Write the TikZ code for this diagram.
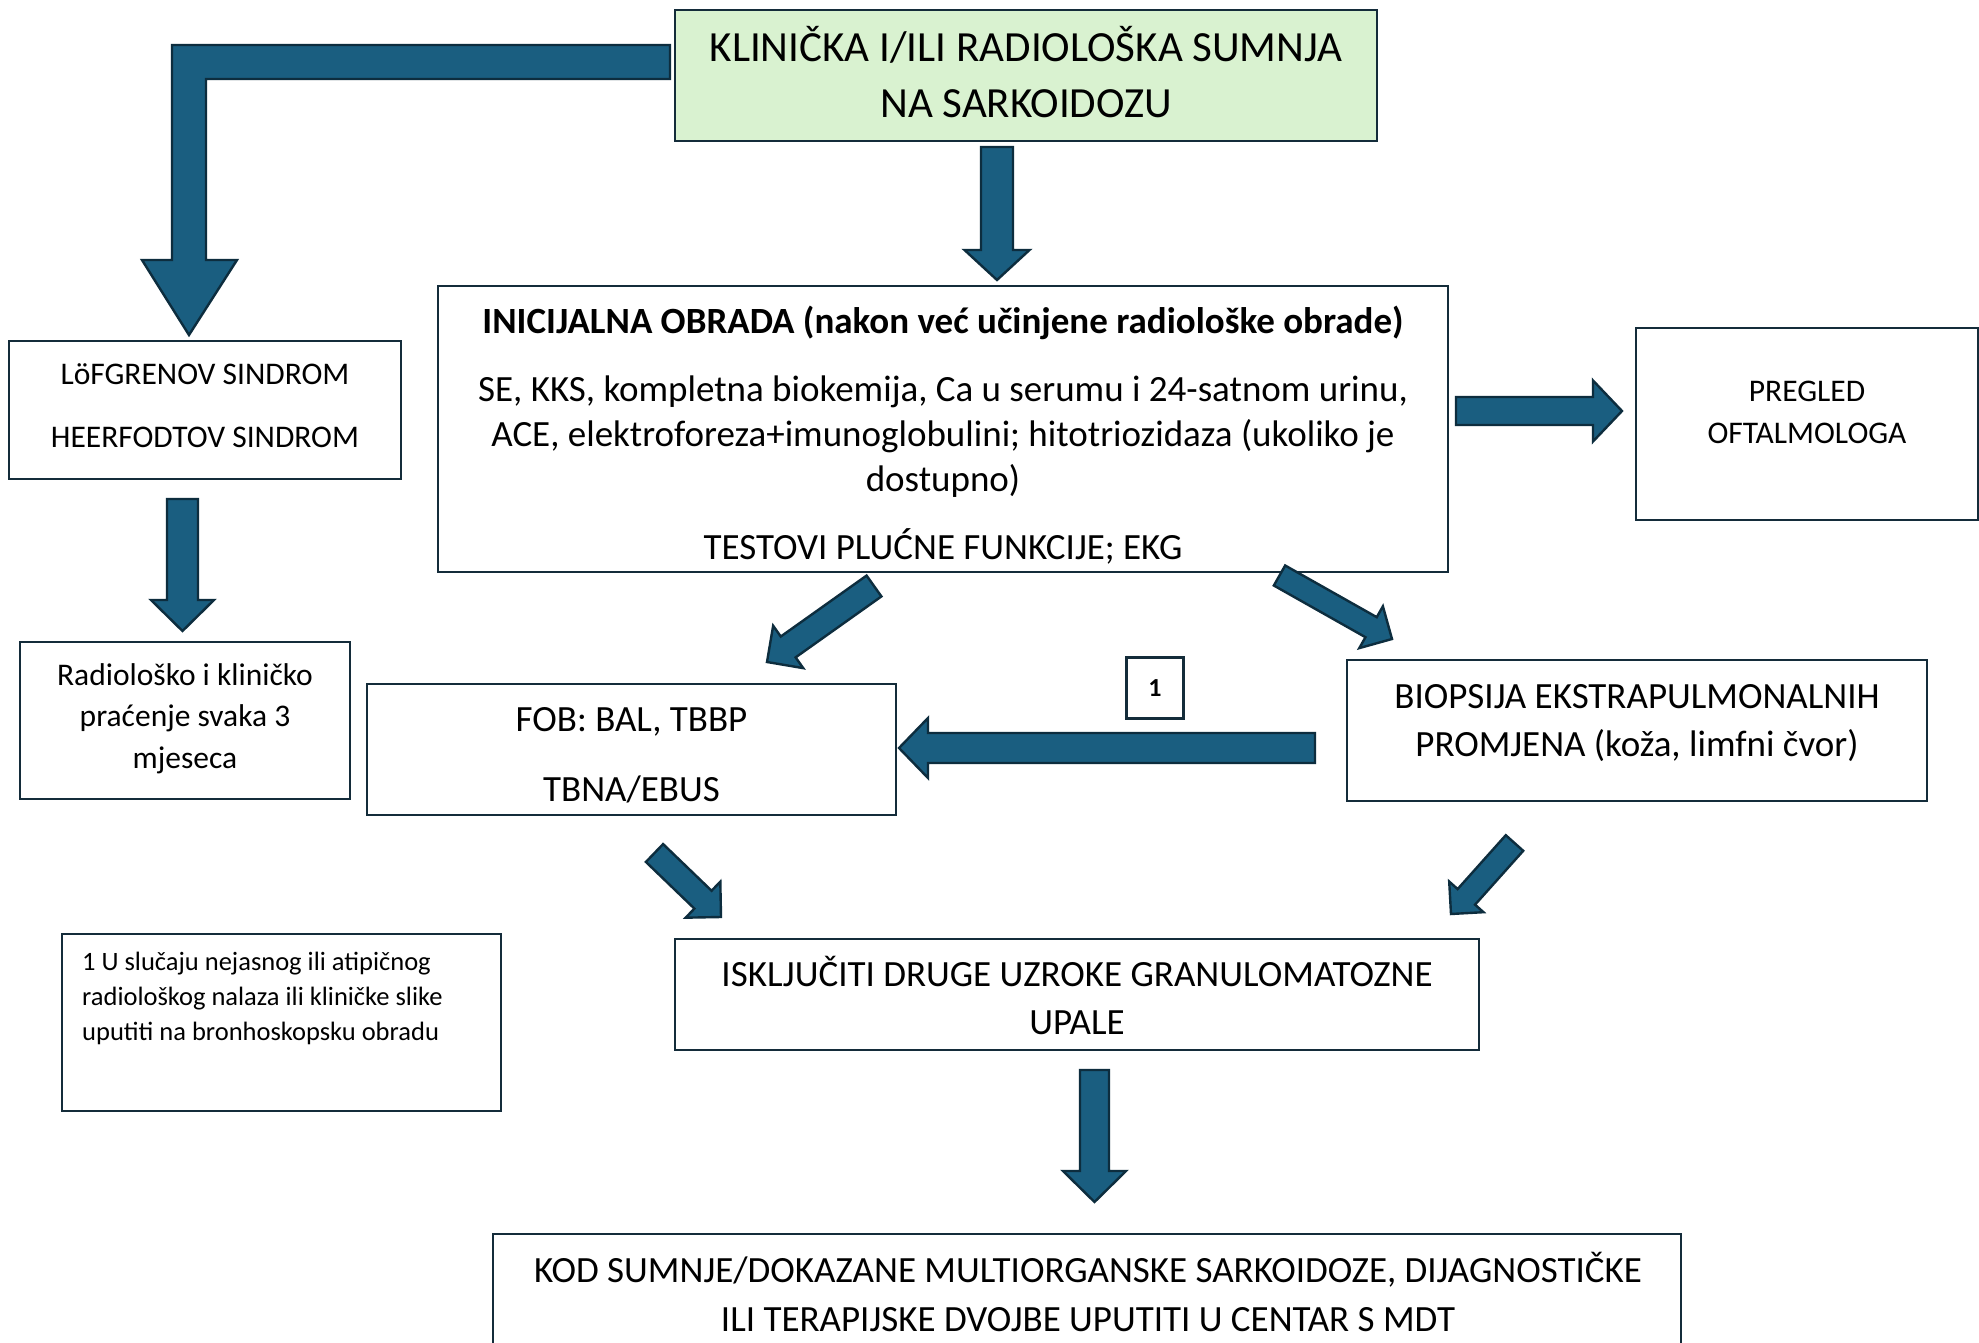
\documentclass[tikz,border=0pt]{standalone}
\usepackage{fontspec}
\setmainfont{Carlito}
\usetikzlibrary{calc}
\definecolor{arrowfill}{RGB}{26,94,128}
\definecolor{arrowline}{RGB}{13,45,62}
\definecolor{boxline}{RGB}{20,44,58}
\definecolor{topfill}{RGB}{217,242,208}
% #1 tail coordinate, #2 tip coordinate, #3 half shaft width, #4 half head width, #5 head length
\newcommand\blockarrow[5]{%
  \coordinate (bahead) at ($(#2)!#5!(#1)$);
  \filldraw[barrow] ($(#1)!#3!90:(#2)$) -- ($(bahead)!#3!-90:(#1)$) -- ($(bahead)!#4!-90:(#1)$)
    -- (#2) -- ($(bahead)!#4!90:(#1)$) -- ($(bahead)!#3!90:(#1)$) -- ($(#1)!#3!-90:(#2)$) -- cycle;
}
\begin{document}
\begin{tikzpicture}[x=1pt,y=-1pt,
  box/.style={draw=boxline,line width=2.2pt,inner sep=0pt,fill=white},
  txt/.style={inner sep=0pt,align=center,text=black},
  barrow/.style={fill=arrowfill,draw=arrowline,line width=2.4pt,line join=miter}]
\useasboundingbox[fill=white] (0,0) rectangle (1979,1343);

% boxes
\node[box,fill=topfill,minimum width=702pt,minimum height=131pt] (top) at (1026,75.5) {};
\node[txt,font=\fontsize{43}{55.5}\selectfont] (topT) at (1026,72) {KLINIČKA I/ILI RADIOLOŠKA SUMNJA\\NA SARKOIDOZU};

\node[box,minimum width=1010pt,minimum height=286pt] (init) at (943,429) {};
\node[txt,font=\fontsize{37}{45}\selectfont] (initT) at (943,435) {\textbf{INICIJALNA OBRADA (nakon već učinjene radiološke obrade)}\\[23pt]
SE, KKS, kompletna biokemija, Ca u serumu i 24-satnom urinu,\\
ACE, elektroforeza+imunoglobulini; hitotriozidaza (ukoliko je\\
dostupno)\\[23pt]
TESTOVI PLUĆNE FUNKCIJE; EKG};

\node[box,minimum width=342pt,minimum height=192pt] (oft) at (1807,424) {};
\node[txt,font=\fontsize{31.5}{42}\selectfont] (oftT) at (1807,412) {PREGLED\\OFTALMOLOGA};

\node[box,minimum width=392pt,minimum height=138pt] (lof) at (205,410) {};
\node[txt,font=\fontsize{31.5}{38}\selectfont] (lofT) at (205,405.5) {LöFGRENOV SINDROM\\[25pt]HEERFODTOV SINDROM};

\node[box,minimum width=330pt,minimum height=157pt] (rad) at (185,720.5) {};
\node[txt,font=\fontsize{31.5}{41.5}\selectfont] (radT) at (185,718.5) {Radiološko i kliničko\\praćenje svaka 3\\mjeseca};

\node[box,minimum width=529pt,minimum height=131pt] (fob) at (631.5,749.5) {};
\node[txt,font=\fontsize{37}{70}\selectfont] (fobT) at (631.5,755) {FOB: BAL, TBBP\\TBNA/EBUS};

\node[box,minimum width=580pt,minimum height=141pt] (bio) at (1637,730.5) {};
\node[txt,font=\fontsize{37}{48}\selectfont] (bioT) at (1637,723.5) {BIOPSIJA EKSTRAPULMONALNIH\\PROMJENA (koža, limfni čvor)};

\node[box,minimum width=57pt,minimum height=61pt,font=\fontsize{26}{30}\selectfont\bfseries] (one) at (1155,688) {1};

\node[box,minimum width=439pt,minimum height=177pt] (note) at (281.5,1022.5) {};
\node[txt,align=left,anchor=north west,font=\fontsize{26.5}{35}\selectfont] (noteT) at (82,952) {1 U slučaju nejasnog ili atipičnog\\radiološkog nalaza ili kliničke slike\\uputiti na bronhoskopsku obradu};

\node[box,minimum width=804pt,minimum height=111pt] (isk) at (1077,994.5) {};
\node[txt,font=\fontsize{37}{48}\selectfont] (iskT) at (1077,995.5) {ISKLJUČITI DRUGE UZROKE GRANULOMATOZNE\\UPALE};

\node[box,minimum width=1188pt,minimum height=150pt] (kod) at (1087,1309) {};
\node[txt,font=\fontsize{37}{49}\selectfont] (kodT) at (1088,1291.5) {KOD SUMNJE/DOKAZANE MULTIORGANSKE SARKOIDOZE, DIJAGNOSTIČKE\\ILI TERAPIJSKE DVOJBE UPUTITI U CENTAR S MDT};

% bent arrow from top box to Lofgren box
\coordinate (bentS) at (670,62);
\coordinate (bentE) at (189,335);
\filldraw[barrow] (670,45) -- (172,45) -- (172,260) -- (142,260) -- (bentE) -- (237,260)
  -- (206,260) -- (206,79) -- (670,79) -- cycle;

% straight block arrows
\coordinate (a1s) at (997,147);   \coordinate (a1e) at (997,280);
\coordinate (a2s) at (1456,411);  \coordinate (a2e) at (1622,411);
\coordinate (a3s) at (182.5,499); \coordinate (a3e) at (182.5,631);
\coordinate (a4s) at (874,586);   \coordinate (a4e) at (767,662);
\coordinate (a5s) at (1279.5,575.5); \coordinate (a5e) at (1392,639);
\coordinate (a6s) at (1315,748);  \coordinate (a6e) at (899,748);
\coordinate (a7s) at (654.5,853); \coordinate (a7e) at (721,917);
\coordinate (a8s) at (1514.5,843); \coordinate (a8e) at (1451,914);
\coordinate (a9s) at (1094.5,1070); \coordinate (a9e) at (1094.5,1202);

\blockarrow{a1s}{a1e}{16pt}{32.5pt}{30pt}
\blockarrow{a2s}{a2e}{14pt}{30.5pt}{29pt}
\blockarrow{a3s}{a3e}{15.5pt}{31.5pt}{31pt}
\blockarrow{a4s}{a4e}{12.8pt}{26pt}{26pt}
\blockarrow{a5s}{a5e}{11.5pt}{24pt}{24pt}
\blockarrow{a6s}{a6e}{15pt}{30pt}{29pt}
\blockarrow{a7s}{a7e}{12.4pt}{25pt}{25pt}
\blockarrow{a8s}{a8e}{11.7pt}{23pt}{23pt}
\blockarrow{a9s}{a9e}{14.5pt}{31.5pt}{31pt}
\end{tikzpicture}
\end{document}
